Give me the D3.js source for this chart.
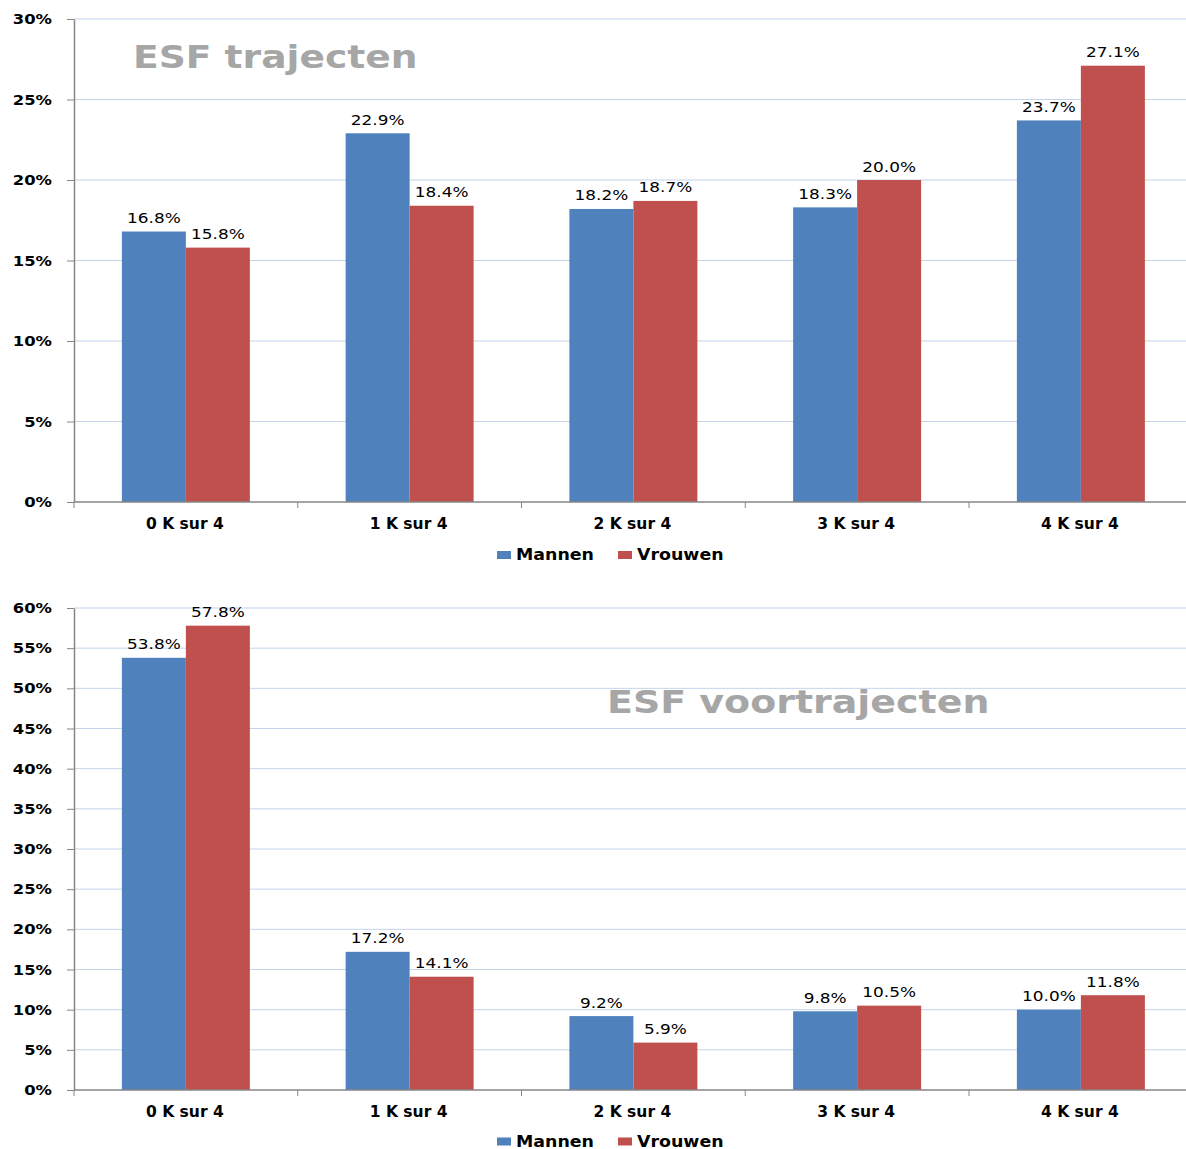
<!DOCTYPE html>
<html>
<head>
<meta charset="utf-8">
<script src="https://cdn.jsdelivr.net/npm/d3@7"></script>
<style>
  html, body { margin: 0; padding: 0; background: #ffffff; }
  svg { display: block; }
</style>
</head>
<body>
<svg id="chart" width="1186" height="1149"></svg>
<script>
// ---- Data ----
const categories = ["0 K sur 4", "1 K sur 4", "2 K sur 4", "3 K sur 4", "4 K sur 4"];
const seriesNames = ["Mannen", "Vrouwen"];
const seriesColors = ["#4f81bd", "#c0504d"];

const trajectenMannen = [16.8, 22.9, 18.2, 18.3, 23.7];
const trajectenVrouwen = [15.8, 18.4, 18.7, 20.0, 27.1];
const trajectenTicks = [0, 5, 10, 15, 20, 25, 30];

const voorMannen = [53.8, 17.2, 9.2, 9.8, 10.0];
const voorVrouwen = [57.8, 14.1, 5.9, 10.5, 11.8];
const voorTicks = [0, 5, 10, 15, 20, 25, 30, 35, 40, 45, 50, 55, 60];

const FONT = "'DejaVu Sans', Verdana, sans-serif";
const svg = d3.select("#chart");

function stext(parent, x, y, str, o) {
  return parent.append("text")
    .attr("transform", `translate(${x},${y}) scale(${o.sx || 1},1)`)
    .attr("text-anchor", o.anchor || "start")
    .attr("dy", o.dy || null)
    .attr("font-family", FONT)
    .attr("font-size", o.size)
    .attr("font-weight", o.weight || "normal")
    .attr("fill", o.fill || "#000")
    .text(str);
}

function drawChart(cfg) {
  const g = svg.append("g");
  const x0 = d3.scaleBand().domain(categories).range([74, 1192.75]).paddingInner(0).paddingOuter(0);
  const x1 = d3.scaleBand().domain(seriesNames).range([0, x0.bandwidth()]).paddingInner(0).paddingOuter(0.748);
  const y = d3.scaleLinear().domain([0, cfg.max]).range([cfg.bottom, cfg.top]);

  // gridlines
  g.append("g").selectAll("line").data(cfg.ticks.filter(t => t > 0)).join("line")
    .attr("x1", 74).attr("x2", 1186)
    .attr("y1", d => y(d)).attr("y2", d => y(d))
    .attr("stroke", "#c3d3ec").attr("stroke-width", 1);

  // title
  stext(g, cfg.titleX, cfg.titleY, cfg.title, {size: 31.5, weight: "bold", fill: "#a6a6a6", sx: cfg.titleSx});

  // y axis
  const ya = g.append("g").attr("transform", "translate(74,0)")
    .call(d3.axisLeft(y).tickValues(cfg.ticks).tickSize(7).tickSizeOuter(0).tickFormat(""));
  ya.selectAll("line").attr("stroke", "#868686");
  ya.select(".domain").attr("stroke", "#868686").attr("stroke-width", 1.5);

  cfg.ticks.forEach(t => {
    stext(g, 52, y(t), t + "%", {size: 14, weight: "bold", anchor: "end", dy: "0.36em", sx: 1.17});
  });

  // bars
  const series = [cfg.mannen, cfg.vrouwen];
  series.forEach((vals, si) => {
    g.append("g").selectAll("rect").data(vals).join("rect")
      .attr("x", (d, i) => x0(categories[i]) + x1(seriesNames[si]))
      .attr("width", x1.bandwidth())
      .attr("y", d => y(d))
      .attr("height", d => y(0) - y(d))
      .attr("fill", seriesColors[si]);
    vals.forEach((v, i) => {
      stext(g, x0(categories[i]) + x1(seriesNames[si]) + x1.bandwidth() / 2, y(v) - 8.5,
        v.toFixed(1) + "%", {size: 14, anchor: "middle", sx: 1.21, fill: "#000"});
    });
  });

  // x axis
  const xa = g.append("g").attr("transform", `translate(0,${cfg.bottom})`);
  xa.append("line").attr("x1", 74).attr("x2", 1186).attr("y1", 0).attr("y2", 0)
    .attr("stroke", "#868686").attr("stroke-width", 1.5);
  xa.selectAll("line.tk").data(categories.concat(["end"])).join("line").attr("class", "tk")
    .attr("x1", (d, i) => i < categories.length ? x0(d) : x0.range()[1])
    .attr("x2", (d, i) => i < categories.length ? x0(d) : x0.range()[1])
    .attr("y1", 0).attr("y2", 6).attr("stroke", "#868686");
  categories.forEach(c => {
    stext(g, x0(c) + x0.bandwidth() / 2 - 1, cfg.bottom + 27, c, {size: 15.5, weight: "bold", anchor: "middle", sx: 1.0});
  });

  // legend
  const ly = cfg.legendY;
  const legendItems = [{name: seriesNames[0], x: 497}, {name: seriesNames[1], x: 618}];
  legendItems.forEach((it, i) => {
    g.append("rect").attr("x", it.x).attr("y", ly - 9).attr("width", 14).attr("height", 8).attr("fill", seriesColors[i]);
    stext(g, it.x + 19, ly, it.name, {size: 15, weight: "bold", sx: 1.16});
  });
}

drawChart({max: 30, top: 19, bottom: 502, ticks: trajectenTicks, mannen: trajectenMannen, vrouwen: trajectenVrouwen,
  title: "ESF trajecten", titleX: 133, titleY: 68, titleSx: 1.195, legendY: 560});
drawChart({max: 60, top: 608, bottom: 1090, ticks: voorTicks, mannen: voorMannen, vrouwen: voorVrouwen,
  title: "ESF voortrajecten", titleX: 607, titleY: 713, titleSx: 1.205, legendY: 1146.5});
</script>
</body>
</html>
